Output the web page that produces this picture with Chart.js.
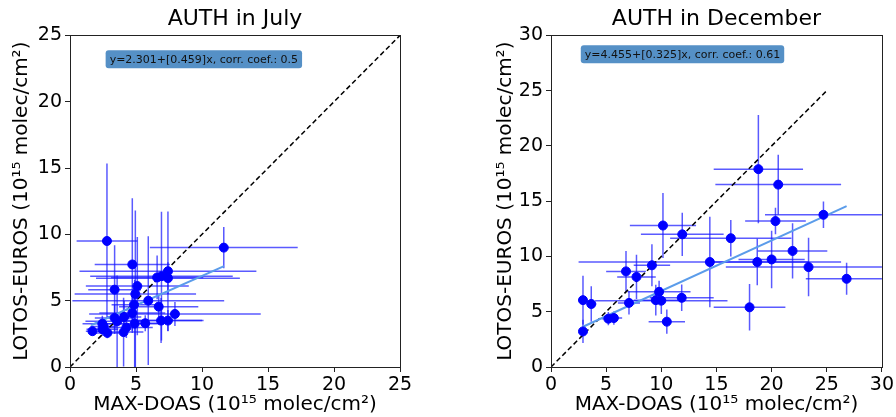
<!DOCTYPE html>
<html>
<head>
<meta charset="utf-8">
<script src="https://cdn.jsdelivr.net/npm/chart.js@4.4.1/dist/chart.umd.min.js"></script>
<style>
html, body { margin: 0; padding: 0; background: #fff; }
#wrap { display: flex; width: 896px; height: 417px; }
canvas { display: block; }
</style>
</head>
<body>
<div id="wrap">
  <canvas id="julyChart" width="448" height="417"></canvas>
  <canvas id="decChart" width="448" height="417"></canvas>
</div>
<script>
// July: MAX-DOAS (x) vs LOTOS-EUROS (y), with error bars
const julyX    = [2.8, 11.65, 4.72, 7.42, 6.93, 6.6, 7.42, 3.38, 5.1, 4.95, 5.93, 4.85, 6.72, 7.95, 4.72, 3.38, 4.1, 3.57, 6.9, 7.42, 4.9, 5.7, 2.45, 4.27, 2.45, 2.83, 1.7, 4.06, 2.55];
const julyY    = [9.5, 9.0, 7.73, 7.22, 6.85, 6.75, 6.7, 5.83, 6.1, 5.5, 5.0, 4.7, 4.55, 4.0, 4.07, 3.7, 3.77, 3.45, 3.5, 3.5, 3.27, 3.3, 3.27, 2.98, 2.85, 2.57, 2.7, 2.63, 3.05];
const julyXErr = [2.3, 5.6, 2.85, 6.7, 5.4, 3.5, 5.45, 2.0, 3.9, 4.6, 5.75, 1.7, 3.0, 6.5, 2.5, 1.5, 1.3, 2.4, 3.1, 2.7, 2.2, 1.0, 1.5, 2.0, 1.2, 0.9, 0.5, 1.5, 1.0];
const julyYErr = [5.85, 1.55, 5.0, 4.5, 4.85, 1.65, 1.2, 3.35, 3.7, 6.3, 4.85, 1.2, 0.8, 0.9, 1.5, 1.0, 1.2, 3.45, 1.7, 0.8, 3.3, 0.6, 0.6, 0.8, 0.5, 0.4, 0.3, 2.6, 0.5];
const julyFitX = [1.6, 11.67];
const julyFitY = [3.15, 7.6];
const julyTicks = [0, 5, 10, 15, 20, 25];
const julyLabel = 'y=2.301+[0.459]x, corr. coef.: 0.5';

// December
const decX    = [2.9, 2.9, 3.65, 5.2, 5.7, 6.8, 7.07, 7.75, 9.15, 9.5, 9.8, 10.0, 10.15, 10.5, 11.85, 11.9, 14.4, 16.3, 18.0, 18.7, 18.8, 20.0, 20.35, 20.6, 21.9, 23.35, 24.7, 26.8];
const decY    = [3.22, 6.05, 5.7, 4.37, 4.43, 8.65, 5.8, 8.15, 9.2, 6.05, 6.8, 6.0, 12.8, 4.1, 6.26, 12.0, 9.5, 11.65, 5.4, 9.5, 17.9, 9.73, 13.2, 16.5, 10.5, 9.04, 13.77, 7.98];
const decXErr = [0.3, 0.4, 0.45, 0.6, 0.75, 1.8, 1.0, 1.75, 1.65, 2.0, 2.85, 6.0, 3.0, 1.65, 2.9, 3.75, 11.9, 5.5, 3.25, 4.7, 4.05, 3.0, 2.75, 5.7, 3.15, 7.5, 5.3, 3.7];
const decYErr = [1.05, 2.2, 1.6, 0.6, 0.6, 1.85, 1.05, 2.0, 1.9, 1.4, 1.0, 1.2, 2.95, 1.1, 1.2, 1.95, 4.1, 1.65, 2.1, 2.1, 4.9, 2.6, 1.2, 2.7, 2.5, 2.65, 1.2, 1.45];
const decFitX = [2.9, 26.8];
const decFitY = [3.64, 14.55];
const decTicks = [0, 5, 10, 15, 20, 25, 30];
const decLabel = 'y=4.455+[0.325]x, corr. coef.: 0.61';

// 1:1 reference line
const diagX = [0, 25];
const diagY = [0, 25];

const FONT = "'DejaVu Sans', sans-serif";

const toPoints = (xs, ys) => xs.map((v, i) => ({x: v, y: ys[i]}));

const errorBars = {
  id: 'errorBars',
  beforeDatasetsDraw(chart) {
    const {ctx, chartArea, scales: {x, y}} = chart;
    ctx.save();
    ctx.beginPath();
    ctx.rect(chartArea.left, chartArea.top, chartArea.width, chartArea.height);
    ctx.clip();
    ctx.strokeStyle = 'rgba(20,20,255,0.7)';
    ctx.lineWidth = 1.5;
    chart.data.datasets.forEach(ds => {
      if (!ds.xErr) return;
      ds.data.forEach((p, i) => {
        const px = x.getPixelForValue(p.x), py = y.getPixelForValue(p.y);
        ctx.beginPath();
        ctx.moveTo(x.getPixelForValue(p.x - ds.xErr[i]), py);
        ctx.lineTo(x.getPixelForValue(p.x + ds.xErr[i]), py);
        ctx.moveTo(px, y.getPixelForValue(p.y - ds.yErr[i]));
        ctx.lineTo(px, y.getPixelForValue(p.y + ds.yErr[i]));
        ctx.stroke();
      });
    });
    ctx.restore();
  }
};

const frameAndLabel = {
  id: 'frameAndLabel',
  afterDraw(chart, args, opts) {
    const {ctx, chartArea} = chart;
    ctx.save();
    ctx.strokeStyle = '#222';
    ctx.lineWidth = 1;
    ctx.strokeRect(Math.round(chartArea.left) + 0.5, Math.round(chartArea.top) + 0.5,
                   Math.round(chartArea.width), Math.round(chartArea.height));
    // fit equation box
    ctx.font = '11px ' + FONT;
    const w = ctx.measureText(opts.text).width + 8;
    const bx = chartArea.left + opts.fx * chartArea.width;
    const by = chartArea.top + opts.fy * chartArea.height;
    ctx.fillStyle = '#5590c6';
    ctx.beginPath();
    ctx.roundRect(bx, by, w, 18, 3);
    ctx.fill();
    ctx.fillStyle = '#111';
    ctx.textBaseline = 'middle';
    ctx.fillText(opts.text, bx + 4, by + 9.5);
    ctx.restore();
  }
};

function makeChart(id, title, xs, ys, xe, ye, fitX, fitY, ticks, label, yAxisWidth, padLeft, padRight, fx, fy) {
  const max = ticks[ticks.length - 1];
  return new Chart(document.getElementById(id), {
    type: 'scatter',
    data: {
      datasets: [
        {
          data: toPoints(xs, ys),
          xErr: xe,
          yErr: ye,
          pointRadius: 4.5,
          pointBackgroundColor: '#0000ff',
          pointBorderColor: '#0000ff',
          order: 0
        },
        {
          data: toPoints(fitX, fitY),
          showLine: true,
          borderColor: '#5b9cea',
          borderWidth: 2,
          pointRadius: 0,
          order: 1
        },
        {
          data: toPoints(diagX, diagY),
          showLine: true,
          borderColor: '#000',
          borderWidth: 1.5,
          borderDash: [5, 3],
          pointRadius: 0,
          order: 2
        }
      ]
    },
    options: {
      responsive: false,
      animation: false,
      layout: { padding: { left: padLeft, right: padRight, top: 0, bottom: 0 } },
      plugins: {
        legend: { display: false },
        tooltip: { enabled: false },
        title: {
          display: true,
          text: title,
          fullSize: false,
          color: '#000',
          font: { family: FONT, size: 22, weight: 'normal' },
          padding: { top: 6, bottom: 3 }
        },
        frameAndLabel: { text: label, fx: fx, fy: fy }
      },
      scales: {
        x: {
          min: 0, max: max,
          afterBuildTicks: s => { s.ticks = ticks.map(v => ({value: v})); },
          afterFit: s => { s.height = 50; },
          border: { display: false },
          grid: { drawOnChartArea: false, drawTicks: true, tickLength: 5, color: '#222' },
          ticks: { color: '#000', padding: 2, maxRotation: 0, font: { family: FONT, size: 19 } },
          title: { display: true, text: 'MAX-DOAS (10¹⁵ molec/cm²)', color: '#000',
                   font: { family: FONT, size: 20 }, padding: { top: 0, bottom: 0 } }
        },
        y: {
          min: 0, max: max,
          afterBuildTicks: s => { s.ticks = ticks.map(v => ({value: v})); },
          afterFit: s => { s.width = yAxisWidth; },
          border: { display: false },
          grid: { drawOnChartArea: false, drawTicks: true, tickLength: 5, color: '#222' },
          ticks: { color: '#000', padding: 3, font: { family: FONT, size: 19 } },
          title: { display: true, text: 'LOTOS-EUROS (10¹⁵ molec/cm²)', color: '#000',
                   font: { family: FONT, size: 20 }, padding: { top: 10, bottom: 0 } }
        }
      }
    },
    plugins: [errorBars, frameAndLabel]
  });
}

makeChart('julyChart', 'AUTH in July', julyX, julyY, julyXErr, julyYErr, julyFitX, julyFitY,
          julyTicks, julyLabel, 70, 0, 48, 0.108, 0.045);
makeChart('decChart', 'AUTH in December', decX, decY, decXErr, decYErr, decFitX, decFitY,
          decTicks, decLabel, 67, 36, 13, 0.09, 0.03);
</script>
</body>
</html>
